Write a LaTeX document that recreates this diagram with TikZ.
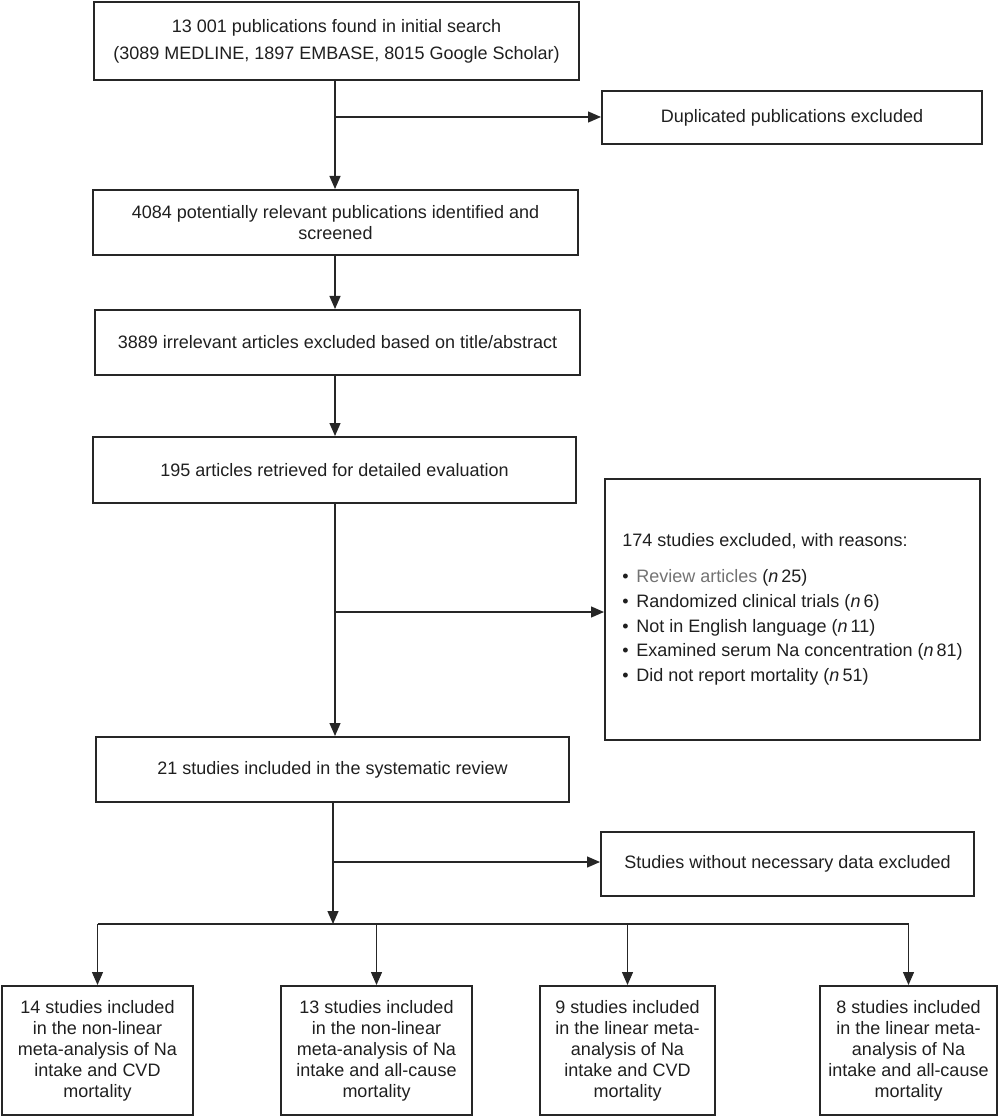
\documentclass[tikz,border=0pt]{standalone}
\usepackage{fontspec}
\setmainfont{Liberation Sans}
\usetikzlibrary{arrows.meta}
\begin{document}
\begin{tikzpicture}[x=0.5pt,y=-0.5pt,
  box/.style={draw=black!85, line width=1pt, inner sep=0pt, align=center, text=black!88,
    font=\fontsize{9}{10.5}\selectfont},
  conn/.style={draw=black!85, line width=0.65pt},
  arr/.style={conn, -{Triangle[length=6.5pt,width=5.5pt]}},
]
\useasboundingbox (0,0) rectangle (1000,1117);
% main column
\node[box, minimum width=242.5pt, minimum height=39pt, font=\fontsize{9}{13.5}\selectfont] (b1) at (336.5,41)
  {13 001 publications found in initial search\\(3089 MEDLINE, 1897 EMBASE, 8015 Google Scholar)};
\node[box, minimum width=190pt, minimum height=26.5pt] (dup) at (792,117.5) {Duplicated publications excluded};
\node[box, minimum width=242.5pt, minimum height=32.5pt] (b2) at (335.5,222.5)
  {4084 potentially relevant publications identified and\\screened};
\node[box, minimum width=242.5pt, minimum height=32.5pt] (b3) at (337.5,342.5)
  {3889 irrelevant articles excluded based on title/abstract};
\node[box, minimum width=241.5pt, minimum height=33pt] (b4) at (334.5,470)
  {195 articles retrieved for detailed evaluation};
\node[box, align=left, minimum width=187.5pt, minimum height=130.5pt] (excl) at (792.5,609.5)
  {174 studies excluded, with reasons:\\[7.6pt]
   \makebox[7pt][l]{\textbullet}{\color{black!55}Review articles} (\textit{n}\,25)\\[1.85pt]
   \makebox[7pt][l]{\textbullet}Randomized clinical trials (\textit{n}\,6)\\[1.85pt]
   \makebox[7pt][l]{\textbullet}Not in English language (\textit{n}\,11)\\[1.85pt]
   \makebox[7pt][l]{\textbullet}Examined serum Na concentration (\textit{n}\,81)\\[1.85pt]
   \makebox[7pt][l]{\textbullet}Did not report mortality (\textit{n}\,51)};
\node[box, minimum width=236.5pt, minimum height=32.5pt] (b5) at (332.5,769.5)
  {21 studies included in the systematic review};
\node[box, minimum width=186.5pt, minimum height=32pt] (nodata) at (787.5,864)
  {Studies without necessary data excluded};
% bottom boxes
\node[box, minimum width=95.5pt, minimum height=64.5pt] (ba) at (97.5,1050.5)
  {14 studies included\\in the non-linear\\meta-analysis of Na\\intake and CVD\\mortality};
\node[box, minimum width=95.5pt, minimum height=64.5pt] (bb) at (376.5,1050.5)
  {13 studies included\\in the non-linear\\meta-analysis of Na\\intake and all-cause\\mortality};
\node[box, minimum width=87.5pt, minimum height=64.5pt] (bc) at (627.5,1050.5)
  {9 studies included\\in the linear meta-\\analysis of Na\\intake and CVD\\mortality};
\node[box, minimum width=88.5pt, minimum height=64.5pt] (bd) at (908.5,1050.5)
  {8 studies included\\in the linear meta-\\analysis of Na\\intake and all-cause\\mortality};
% connectors
\coordinate (sp) at (335,0);
\coordinate (j1) at (335,117);
\coordinate (j2) at (335,612);
\coordinate (j3) at (333,862);
\coordinate (dist) at (333,924);
\draw[arr] (b1.south -| sp) -- (b2.north -| sp);
\draw[arr] (j1) -- (j1 -| dup.west);
\draw[arr] (b2.south -| sp) -- (b3.north -| sp);
\draw[arr] (b3.south -| sp) -- (b4.north -| sp);
\draw[arr] (b4.south -| sp) -- (b5.north -| sp);
\draw[arr] (j2) -- (j2 -| excl.west);
\draw[arr] (b5.south -| dist) -- (dist);
\draw[arr] (j3) -- (j3 -| nodata.west);
\draw[conn] (dist -| ba.north) -- (dist -| bd.north);
\draw[arr] (dist -| ba.north) -- (ba.north);
\draw[arr] (dist -| bb.north) -- (bb.north);
\draw[arr] (dist -| bc.north) -- (bc.north);
\draw[arr] (dist -| bd.north) -- (bd.north);
\end{tikzpicture}
\end{document}
